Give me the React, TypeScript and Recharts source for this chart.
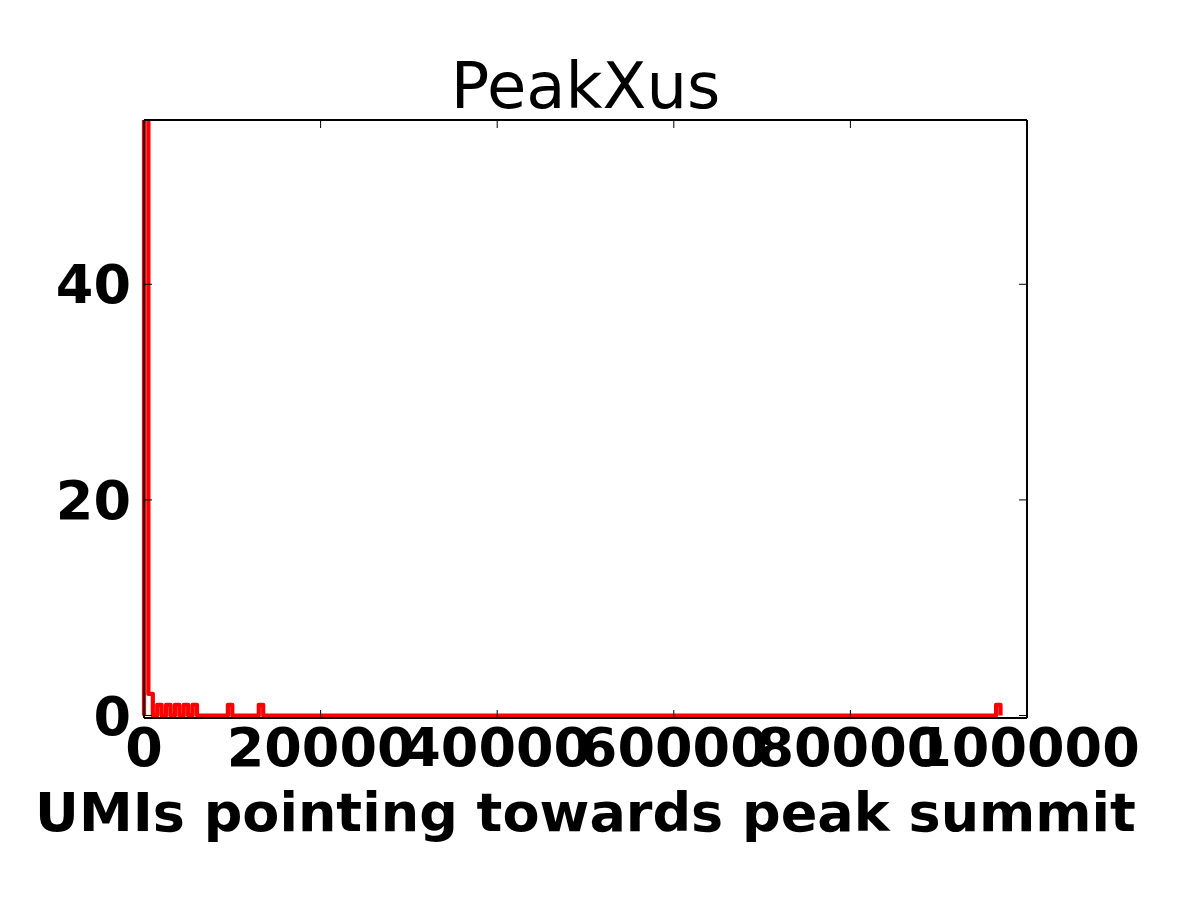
import { LineChart, Line, XAxis, YAxis } from "recharts"

// histogram of UMIs per peak summit, only the non-empty bins are listed
const binWidth = 500
const binStarts = [0, 500, 1500, 2500, 3500, 4500, 5500, 9500, 13000, 96500]
const binCounts = [72, 2, 1, 1, 1, 1, 1, 1, 1, 1]

const xTicks = [0, 20000, 40000, 60000, 80000, 100000]
const yTicks = [0, 20, 40]

const title = "PeakXus"
const xLabel = "UMIs pointing towards peak summit"

// outline of a step histogram: up at each bin's left edge, back to zero at its right edge
function buildSteps() {
  const pts: { x: number; y: number }[] = [{ x: 0, y: 0 }]
  binStarts.forEach((s, i) => {
    pts.push({ x: s, y: binCounts[i] })
    const next = binStarts[i + 1]
    if (next !== s + binWidth) pts.push({ x: s + binWidth, y: 0 })
  })
  return pts
}

const data = buildSteps()

const font = "'DejaVu Sans', 'Liberation Sans', sans-serif"
const tickStyle = { fill: "#000", fontSize: 54, fontWeight: "bold", fontFamily: font }
const spine = { stroke: "#000", strokeWidth: 2 }
const tickMark = { stroke: "#000", strokeWidth: 1 }
const blank = () => ""
// a little room under zero so the red baseline sits just above the bottom spine
const yDomain = [-0.23, 55.24]

export default function App() {
  return (
    <div style={{ position: "absolute", left: 0, top: 0, width: 1200, height: 900, background: "#fff" }}>
      <LineChart
        width={1200}
        height={900}
        data={data}
        margin={{ top: 119, right: 172, bottom: 181, left: 143 }}
      >
        <XAxis
          dataKey="x"
          type="number"
          domain={[0, 100000]}
          ticks={xTicks}
          height={1}
          axisLine={spine}
          tickLine={tickMark}
          tickSize={-8}
          tickMargin={18}
          tick={tickStyle}
          interval={0}
        />
        <XAxis
          xAxisId="top"
          orientation="top"
          dataKey="x"
          type="number"
          domain={[0, 100000]}
          ticks={xTicks}
          height={1}
          axisLine={spine}
          tickLine={tickMark}
          tickSize={-8}
          tickFormatter={blank}
          interval={0}
        />
        <YAxis
          type="number"
          domain={yDomain}
          ticks={yTicks}
          allowDataOverflow
          width={1}
          axisLine={spine}
          tickLine={tickMark}
          tickSize={-8}
          tickMargin={21}
          tick={tickStyle}
          interval={0}
        />
        <YAxis
          yAxisId="right"
          orientation="right"
          type="number"
          domain={yDomain}
          ticks={yTicks}
          allowDataOverflow
          width={1}
          axisLine={spine}
          tickLine={tickMark}
          tickSize={-8}
          tickFormatter={blank}
          interval={0}
        />
        <Line
          dataKey="y"
          type="stepAfter"
          stroke="#ff0000"
          strokeWidth={4.2}
          strokeLinejoin="round"
          dot={false}
          activeDot={false}
          isAnimationActive={false}
        />
      </LineChart>
      <svg
        width={1200}
        height={900}
        style={{ position: "absolute", left: 0, top: 0, pointerEvents: "none" }}
      >
        <text x={585.5} y={108} textAnchor="middle" fontFamily={font} fontSize={64} fill="#000">
          {title}
        </text>
        <text x={585.5} y={831} textAnchor="middle" fontFamily={font} fontSize={54} fontWeight="bold" fill="#000">
          {xLabel}
        </text>
      </svg>
    </div>
  )
}
